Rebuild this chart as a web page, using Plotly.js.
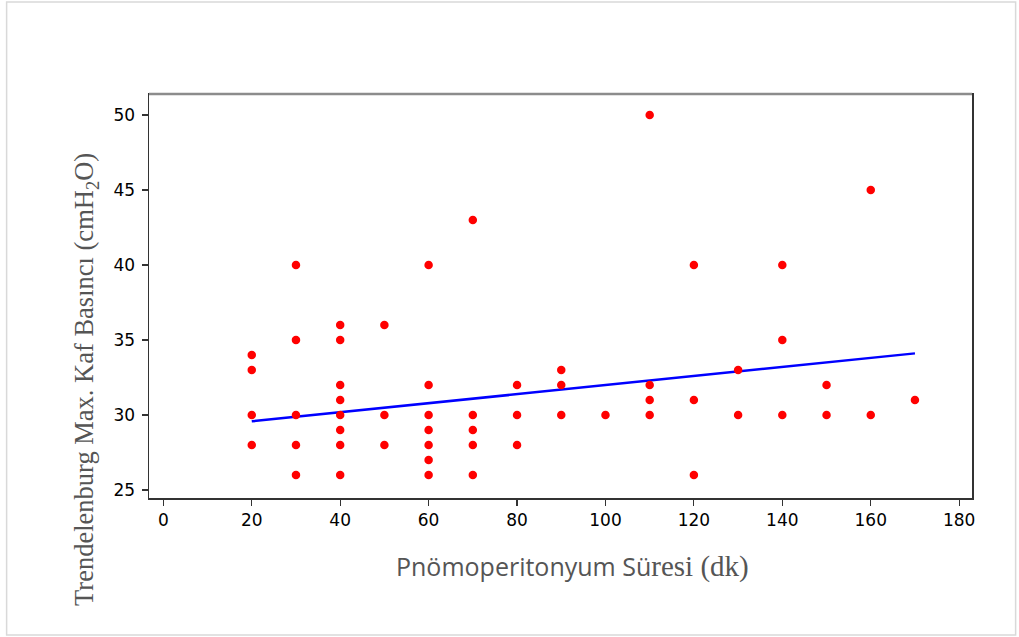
<!DOCTYPE html>
<html>
<head>
<meta charset="utf-8">
<script src="https://cdn.plot.ly/plotly-3.0.1.min.js"></script>
<style>html,body{margin:0;padding:0;background:#fff;}#chart{width:1019px;height:637px;}</style>
</head>
<body>
<div id="chart"></div>
<script>
// Pnömoperitonyum süresi (dk)
const sureX = [
  20,20,20,20,
  30,30,30,30,30,
  40,40,40,40,40,40,40,40,
  50,50,50,
  60,60,60,60,60,60,60,
  70,70,70,70,70,
  80,80,80,
  90,90,90,
  100,
  110,110,110,110,
  120,120,120,
  130,130,
  140,140,140,
  150,150,
  160,160,
  170
];
// Trendelenburg max. kaf basıncı (cmH2O)
const basincY = [
  34,33,30,28,
  40,35,30,28,26,
  36,35,32,31,30,29,28,26,
  36,30,28,
  40,32,30,29,28,27,26,
  43,30,29,28,26,
  32,30,28,
  33,32,30,
  30,
  50,32,31,30,
  40,31,26,
  33,30,
  40,35,30,
  32,30,
  45,30,
  31
];
// Fitted trend line
const trendX = [20, 170];
const trendY = [29.58, 34.11];

const xTicks = [0,20,40,60,80,100,120,140,160,180];
const yTicks = [25,30,35,40,45,50];

const traces = [
  {
    x: trendX, y: trendY, type: 'scatter', mode: 'lines',
    line: {color: '#0000ff', width: 2.5}, hoverinfo: 'skip'
  },
  {
    x: sureX, y: basincY, type: 'scatter', mode: 'markers',
    marker: {color: '#ff0000', size: 8.5, line: {width: 0}}
  }
];

const tickFont = {family: 'DejaVu Sans, Verdana, sans-serif', size: 17, color: '#000'};

const layout = {
  width: 1019, height: 637,
  margin: {l: 149, r: 47, t: 94, b: 139},
  paper_bgcolor: '#ffffff', plot_bgcolor: '#ffffff',
  showlegend: false,
  font: tickFont,
  xaxis: {
    range: [-3.24, 182.9], tickvals: xTicks, ticktext: xTicks.map(String),
    showgrid: false, zeroline: false, showline: true, mirror: true,
    linecolor: '#333', linewidth: 1.5,
    ticks: 'outside', ticklen: 6, tickcolor: '#333', tickwidth: 1.2,
    tickfont: tickFont
  },
  yaxis: {
    range: [24.47, 51.4], tickvals: yTicks, ticktext: yTicks.map(String),
    showgrid: false, zeroline: false, showline: true, mirror: true,
    linecolor: '#333', linewidth: 1.5,
    ticks: 'outside', ticklen: 6, tickcolor: '#333', tickwidth: 1.2,
    ticklabelstandoff: 3,
    tickfont: tickFont
  },
  shapes: [
    {type: 'rect', xref: 'paper', yref: 'paper', x0: -0.173, x1: 1.053, y0: -0.339, y1: 1.228,
     line: {color: '#d9d9d9', width: 1.5}, layer: 'below'},
    {type: 'line', xref: 'paper', yref: 'paper', x0: 0, x1: 1, y0: 1, y1: 1,
     line: {color: '#8c8c8c', width: 2.5}}
  ],
  annotations: [
    {
      xref: 'paper', yref: 'paper', x: -0.0766, y: 0.2946,
      xanchor: 'center', yanchor: 'middle', textangle: -90, showarrow: false,
      text: 'Trendelenburg Max. Kaf Basıncı (cmH<sub>2</sub>O)',
      font: {family: 'Liberation Serif, Times New Roman, serif', size: 26.5, color: '#555'}
    },
    {
      xref: 'paper', yref: 'paper', x: 0.514, y: -0.168,
      xanchor: 'center', yanchor: 'middle', showarrow: false,
      text: '<span style="font-family:Open Sans, sans-serif">Pnömoperitonyum Sü</span><span style="font-family:Liberation Serif, serif;font-size:29px">resi (dk)</span>',
      font: {family: 'Open Sans, sans-serif', size: 25, color: '#555'}
    }
  ]
};

Plotly.newPlot('chart', traces, layout, {displayModeBar: false, staticPlot: true});
</script>
</body>
</html>
